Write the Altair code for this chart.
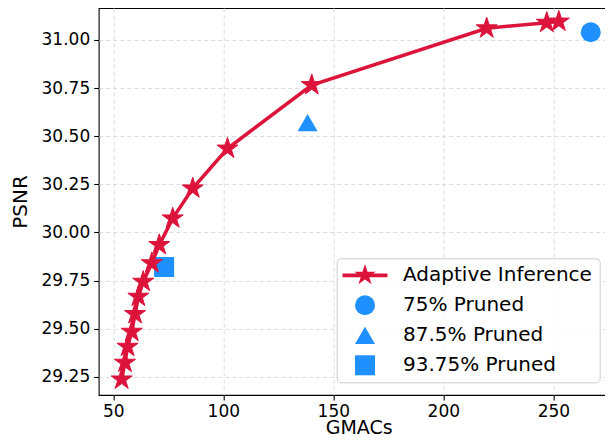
import altair as alt
import pandas as pd

# Adaptive inference curve
gmacs = [53.8, 55.3, 56.5, 58.4, 59.9, 61.4, 63.6, 67.5, 70.9, 77.0, 86.1, 101.9, 140.2, 219.7, 247.0, 252.5]
psnr = [29.236, 29.323, 29.406, 29.484, 29.576, 29.666, 29.744, 29.840, 29.935, 30.073, 30.229, 30.436, 30.766, 31.061, 31.090, 31.096]

# Pruned baselines
pruned_labels = ["75% Pruned", "87.5% Pruned", "93.75% Pruned"]
pruned_gmacs = [267.0, 138.3, 73.1]
pruned_psnr = [31.04, 30.571, 29.82]

methods = ["Adaptive Inference"] + pruned_labels
x_ticks = [50, 100, 150, 200, 250]
y_ticks = [29.25, 29.50, 29.75, 30.00, 30.25, 30.50, 30.75, 31.00]

CRIMSON = "#DC143C"
BLUE = "#1E90FF"
FONT = "DejaVu Sans"

STAR = ("M0,-1 L0.2245,-0.309 L0.9511,-0.309 L0.3633,0.118 L0.5878,0.809 "
        "L0,0.382 L-0.5878,0.809 L-0.3633,0.118 L-0.9511,-0.309 L-0.2245,-0.309 Z")
k = 1.12
star_big = ("M0,%.3f L%.3f,%.3f L%.3f,%.3f L%.3f,%.3f L%.3f,%.3f L0,%.3f L%.3f,%.3f L%.3f,%.3f L%.3f,%.3f L%.3f,%.3f Z" % (
    -1 * k, 0.2245 * k, -0.309 * k, 0.9511 * k, -0.309 * k, 0.3633 * k, 0.118 * k, 0.5878 * k, 0.809 * k,
    0.382 * k, -0.5878 * k, 0.809 * k, -0.3633 * k, 0.118 * k, -0.9511 * k, -0.309 * k, -0.2245 * k, -0.309 * k))
LEGEND_LINE_STAR = "M-2.25,-0.19 L2.25,-0.19 L2.25,0.19 L-2.25,0.19 Z " + star_big

curve = pd.DataFrame({"gmacs": gmacs, "psnr": psnr})
pruned = pd.DataFrame({"gmacs": pruned_gmacs, "psnr": pruned_psnr, "method": pruned_labels})

x_enc = alt.X("gmacs:Q",
              scale=alt.Scale(domain=[43.364, 279.7], nice=False, zero=False),
              axis=alt.Axis(values=x_ticks, title="GMACs", labelFlush=False, labelPadding=3,
                            labelOverlap=False, titleFontSize=19,
                            titleBaseline="alphabetic", titleY=38.5))
y_enc = alt.Y("psnr:Q",
              scale=alt.Scale(domain=[29.1549, 31.1663], nice=False, zero=False),
              axis=alt.Axis(values=y_ticks, format=".2f", title="PSNR",
                            labelOverlap=False, titlePadding=11))

leg = alt.Legend(title=None, orient="none", legendX=238, legendY=250.3,
                 padding=7, rowPadding=10, symbolSize=400, symbolOffset=11.3,
                 labelOffset=28, labelFontSize=20, labelFont=FONT, labelColor="#000000",
                 cornerRadius=4, strokeColor="#cccccc", fillColor="rgba(255,255,255,0.8)",
                 symbolStrokeWidth=0, labelLimit=400)

pruned_layer = alt.Chart(pruned).mark_point(filled=True, opacity=1, size=400).encode(
    x=x_enc, y=y_enc,
    color=alt.Color("method:N", scale=alt.Scale(domain=methods, range=[CRIMSON, BLUE, BLUE, BLUE]), legend=leg),
    shape=alt.Shape("method:N", scale=alt.Scale(domain=methods,
                    range=[LEGEND_LINE_STAR, "circle", "triangle-up", "square"]), legend=leg),
)

line_layer = alt.Chart(curve).mark_line(color=CRIMSON, strokeWidth=3.5).encode(x=x_enc, y=y_enc)

star_layer = alt.Chart(curve).mark_point(shape=STAR, size=490, filled=True, color=CRIMSON,
                                         stroke=CRIMSON, strokeWidth=1, opacity=1).encode(x=x_enc, y=y_enc)

chart = alt.layer(pruned_layer, line_layer, star_layer).properties(
    width=520, height=387,
    padding={"left": 90.7, "top": 0, "right": -13.7, "bottom": 43},
    autosize="none",
).configure_view(
    stroke="#000000", strokeWidth=1.1
).configure_axis(
    domain=False, grid=True, gridColor="#dcdcdc", gridDash=[4, 3], gridWidth=1,
    tickColor="#000000", tickSize=5, tickWidth=1.1, labelPadding=4,
    labelFont=FONT, labelFontSize=17, labelColor="#000000",
    titleFont=FONT, titleFontSize=20, titleFontWeight="normal", titleColor="#000000",
)

chart.save("out.html", embed_options={"renderer": "svg", "actions": False})
